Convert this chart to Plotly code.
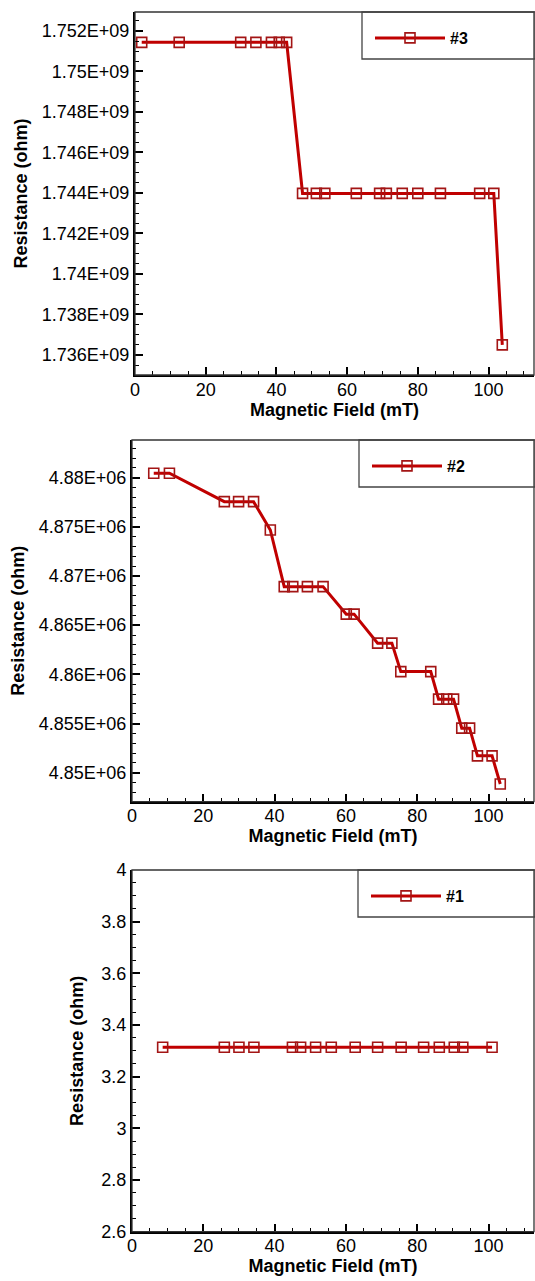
import plotly.graph_objects as go

# ---------------- data ----------------
field_3 = [1.9, 12.5, 29.9, 34.2, 38.6, 40.8, 42.9, 47.4, 51.3, 53.7, 62.6, 69.2,
           71.1, 75.6, 80.0, 86.4, 97.5, 101.5, 103.9]
res_3 = [1.75144e9, 1.75144e9, 1.75144e9, 1.75144e9, 1.75144e9, 1.75144e9, 1.75144e9,
         1.74398e9, 1.74398e9, 1.74398e9, 1.74398e9, 1.74398e9, 1.74398e9, 1.74398e9,
         1.74398e9, 1.74398e9, 1.74398e9, 1.74398e9, 1.73650e9]

field_2 = [6.1, 10.5, 25.9, 29.9, 34.1, 38.8, 42.7, 45.1, 49.2, 53.6, 60.1, 62.3,
           68.9, 72.9, 75.4, 83.8, 86.0, 88.3, 90.2, 92.5, 94.7, 96.9, 101.0, 103.3]
res_2 = [4.88045e6, 4.88045e6, 4.87756e6, 4.87756e6, 4.87756e6, 4.87468e6, 4.86892e6,
         4.86892e6, 4.86892e6, 4.86892e6, 4.86612e6, 4.86612e6, 4.86317e6, 4.86317e6,
         4.86028e6, 4.86028e6, 4.85748e6, 4.85748e6, 4.85748e6, 4.85453e6, 4.85453e6,
         4.85171e6, 4.85171e6, 4.84885e6]

field_1 = [8.6, 25.9, 30.0, 34.2, 45.0, 47.3, 51.5, 55.9, 62.6, 68.9, 75.5, 81.8,
           86.2, 90.4, 92.8, 101.0]
res_1 = [3.314, 3.314, 3.314, 3.314, 3.314, 3.314, 3.314, 3.314, 3.314, 3.314, 3.314,
         3.314, 3.314, 3.314, 3.314, 3.314]

series_names = ["#3", "#2", "#1"]

x_tickvals = [0, 20, 40, 60, 80, 100]
x_ticktext = ["0", "20", "40", "60", "80", "100"]

y3_tickvals = [1.736e9, 1.738e9, 1.740e9, 1.742e9, 1.744e9, 1.746e9, 1.748e9, 1.750e9, 1.752e9]
y3_ticktext = ["1.736E+09", "1.738E+09", "1.74E+09", "1.742E+09", "1.744E+09",
               "1.746E+09", "1.748E+09", "1.75E+09", "1.752E+09"]
y2_tickvals = [4.850e6, 4.855e6, 4.860e6, 4.865e6, 4.870e6, 4.875e6, 4.880e6]
y2_ticktext = ["4.85E+06", "4.855E+06", "4.86E+06", "4.865E+06", "4.87E+06",
               "4.875E+06", "4.88E+06"]
y1_tickvals = [2.6, 2.8, 3.0, 3.2, 3.4, 3.6, 3.8, 4.0]
y1_ticktext = ["2.6", "2.8", "3", "3.2", "3.4", "3.6", "3.8", "4"]

x_title = "Magnetic Field (mT)"
y_title = "Resistance (ohm)"

# ---------------- layout helpers ----------------
W, H = 535, 1281
def px_x(v):
    return v / W
def px_y(v):
    return 1 - v / H

FONT = "Arial, Liberation Sans, sans-serif"
LINE_COLOR = "#C00000"
MARK_COLOR = "#A31515"

fig = go.Figure()

panels = [
    (field_3, res_3, series_names[0], "x", "y", "legend", 135, 12, 375,
     [1.735012e9, 1.752938e9], y3_tickvals, y3_ticktext, 5e5, 10, 362),
    (field_2, res_2, series_names[1], "x2", "y2", "legend2", 132, 440, 801.7,
     [4.84705e6, 4.88383e6], y2_tickvals, y2_ticktext, 1000, 10, 359),
    (field_1, res_1, series_names[2], "x3", "y3", "legend3", 132, 870, 1231.7,
     [2.6, 4.0], y1_tickvals, y1_ticktext, 0.05, 13, 358),
]

shapes = []
for i, (xs, ys, nm, xa, ya, lg, left, top, bottom, yr, ytv, ytt, ymin, ystand, lleft) in enumerate(panels):
    fig.add_trace(go.Scatter(
        x=xs, y=ys, name=nm, mode="lines+markers", xaxis=xa, yaxis=ya, legend=lg,
        line=dict(color=LINE_COLOR, width=3),
        marker=dict(symbol="square-open", size=10, color=MARK_COLOR,
                    line=dict(color=MARK_COLOR, width=1.6)),
        showlegend=True,
    ))
    sfx = "" if i == 0 else str(i + 1)
    xdom = [px_x(left), px_x(534)]
    ydom = [px_y(bottom), px_y(top)]
    fig.layout["xaxis" + sfx] = dict(
        domain=xdom, anchor="y" + sfx, range=[0, (534 - left) / ((488.5 - left) / 100.0)],
        automargin=False,
        showline=True, linecolor="black", linewidth=2, mirror=False,
        showgrid=False, zeroline=False,
        tickmode="array", tickvals=x_tickvals, ticktext=x_ticktext,
        ticks="inside", ticklen=8, tickwidth=1.5, tickcolor="black",
        ticklabelstandoff=-3,
        minor=dict(tickmode="linear", tick0=0, dtick=5, ticks="inside", ticklen=4,
                   tickwidth=1.2, tickcolor="black", showgrid=False),
        tickfont=dict(family=FONT, size=18, color="black"),
        title=dict(text="<b>" + x_title + "</b>", standoff=4,
                   font=dict(family=FONT, size=18, color="black")),
    )
    fig.layout["yaxis" + sfx] = dict(
        domain=ydom, anchor="x" + sfx, range=yr,
        automargin=False,
        showline=True, linecolor="black", linewidth=2, mirror=False,
        showgrid=False, zeroline=False,
        tickmode="array", tickvals=ytv, ticktext=ytt,
        ticks="inside", ticklen=8, tickwidth=1.5, tickcolor="black",
        minor=dict(tickmode="linear", tick0=0, dtick=ymin, ticks="inside", ticklen=4,
                   tickwidth=1.2, tickcolor="black", showgrid=False),
        tickfont=dict(family=FONT, size=18, color="black"),
        title=dict(text="<b>" + y_title + "</b>", standoff=ystand,
                   font=dict(family=FONT, size=18, color="black")),
    )
    shapes.append(dict(type="rect", xref=xa + " domain", yref=ya + " domain",
                       x0=0, x1=1, y0=0, y1=1, line=dict(color="#333333", width=1.3),
                       layer="above"))
    shapes.append(dict(type="rect", xref="paper", yref="paper",
                       x0=px_x(lleft), x1=px_x(535), y0=px_y(top + 47), y1=px_y(top),
                       line=dict(color="#444444", width=1.3), fillcolor="rgba(0,0,0,0)",
                       layer="above"))
    fig.layout[lg] = dict(
        x=px_x(lleft + 8), xanchor="left", y=px_y(top + 26), yanchor="middle",
        bgcolor="rgba(0,0,0,0)", borderwidth=0,
        font=dict(family=FONT, size=16, color="black", weight="bold"),
        itemwidth=70,
    )

fig.update_layout(
    template="none",
    width=W, height=H, margin=dict(l=0, r=0, t=0, b=0, autoexpand=False),
    paper_bgcolor="white", plot_bgcolor="white",
    shapes=shapes,
)

fig.write_html("out.html", config={"displayModeBar": False},
               post_script="document.body.style.margin='0';document.body.style.overflow='hidden';")
